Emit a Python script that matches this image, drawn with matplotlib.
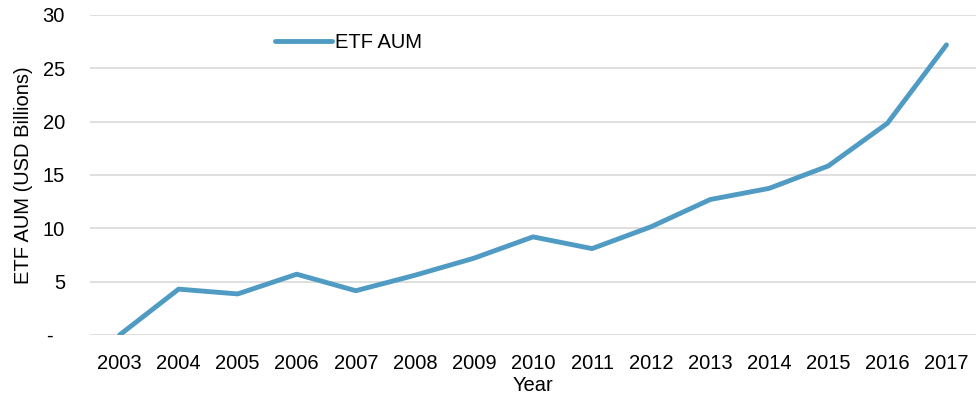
import numpy as np
import matplotlib.pyplot as plt
from matplotlib.ticker import FuncFormatter

plt.rcParams['font.family'] = ['Liberation Sans', 'DejaVu Sans']

# Datos
years = [2003, 2004, 2005, 2006, 2007, 2008, 2009, 2010,
         2011, 2012, 2013, 2014, 2015, 2016, 2017]
etf_aum = [0.0, 4.3, 3.85, 5.7, 4.15, 5.6, 7.2, 9.2,
           8.1, 10.15, 12.7, 13.75, 15.85, 19.85, 27.2]
y_ticks = [0, 5, 10, 15, 20, 25, 30]

fs = 14.5

fig = plt.figure(figsize=(9.8, 4), dpi=100)
ax = fig.add_axes([90/980, 1 - 335/400, 886/980, 320/400])

ax.plot(years, etf_aum, color='#4f9bc4', linewidth=3.5,
        solid_capstyle='round', solid_joinstyle='round', label='ETF AUM')

ax.set_xlim(2002.5, 2017.5)
ax.set_ylim(0, 30)
ax.set_xticks(years)
ax.set_yticks(y_ticks)
ax.yaxis.set_major_formatter(FuncFormatter(lambda v, p: '-  ' if v == 0 else f'{v:.0f}'))

ax.grid(axis='y', color='#d9d9d9', linewidth=1.2)
ax.set_axisbelow(True)
for s in ax.spines.values():
    s.set_visible(False)
ax.tick_params(axis='both', length=0, labelsize=fs, colors='black')
ax.tick_params(axis='y', pad=18)
ax.tick_params(axis='x', pad=14)

ax.set_xlabel('Year', fontsize=fs, labelpad=2)
ax.set_ylabel('ETF AUM (USD Billions)', fontsize=fs, labelpad=7)

ax.legend(loc='center left', bbox_to_anchor=(0.209, 0.913), frameon=False,
          fontsize=fs, handlelength=2.8, handletextpad=0.15,
          borderpad=0, borderaxespad=0)

fig.savefig('out.png', dpi=100)
